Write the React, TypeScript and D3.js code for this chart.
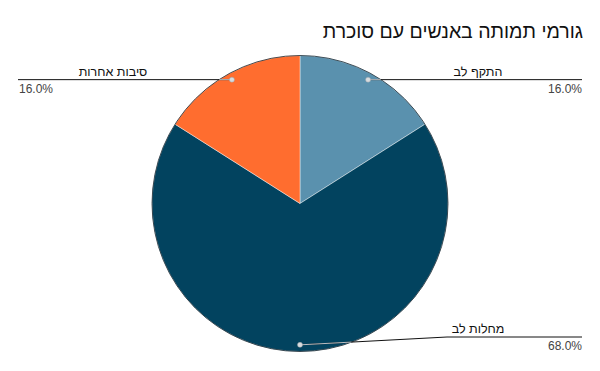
import React from "react";
import * as d3 from "d3";

const categories = ["התקף לב", "מחלות לב", "סיבות אחרות"];
const values = [16, 68, 16];
const colors = ["#5a91ae", "#02435f", "#ff6d2f"];
const title = "גורמי תמותה באנשים עם סוכרת";

const W = 600;
const H = 371;

export default function App() {
  const cx = 300;
  const cy = 203.5;
  const r = 148;
  const total = d3.sum(values);
  const pie = d3.pie<number>().sort(null).value((d) => d);
  const arcs = pie(values);
  const arc = d3.arc<d3.PieArcDatum<number>>().innerRadius(0).outerRadius(r);
  const dotR = r * 0.955;
  const fmt = d3.format(".1f");

  return (
    <svg width={W} height={H} style={{ position: "absolute", left: 0, top: 0, background: "#fff" }}
      fontFamily="'Liberation Sans', Arial, sans-serif">
      <rect x={0} y={0} width={W} height={H} fill="#fff" />
      <text x={583} y={38} textAnchor="end" fontSize={19.5} fill="#111">{title}</text>
      <g transform={`translate(${cx},${cy})`}>
        {arcs.map((a, i) => (
          <path key={i} d={arc(a) || ""} fill={colors[i]} stroke="#ffffff" strokeWidth={0.6} strokeOpacity={0.7} />
        ))}
        <circle r={r} fill="none" stroke="#1d2b33" strokeWidth={0.8} />
      </g>
      {arcs.map((a, i) => {
        const mid = (a.startAngle + a.endAngle) / 2;
        const dx = cx + dotR * Math.sin(mid);
        const dy = cy - dotR * Math.cos(mid);
        const right = dx >= cx;
        const ly = Math.min(dy, H - 34);
        const elbowX = right ? Math.max(dx, 447) : Math.min(dx, 153);
        const endX = right ? 582 : 18;
        const textX = right ? 478 : 113;
        const pct = fmt((values[i] / total) * 100) + "%";
        const inside = (x: number, y: number) => (x - cx) ** 2 + (y - cy) ** 2 <= r * r;
        let exitX = dx;
        let exitY = dy;
        for (let t = 0; t <= 1; t += 0.01) {
          const x = dx + (elbowX - dx) * t;
          const y = dy + (ly - dy) * t;
          if (!inside(x, y)) break;
          exitX = x;
          exitY = y;
        }
        if (inside(elbowX, ly)) {
          let hx = elbowX;
          const step = right ? 1 : -1;
          while (inside(hx, ly)) hx += step;
          exitX = hx;
          exitY = ly;
        }
        return (
          <g key={i}>
            <polyline points={`${dx},${dy} ${elbowX},${ly} ${endX},${ly}`} fill="none" stroke="#111" strokeWidth={1} />
            <line x1={dx} y1={dy} x2={exitX} y2={exitY} stroke="#b9bfc4" strokeWidth={1} />
            <circle cx={dx} cy={dy} r={2.5} fill="#d8dcdf" stroke="#9aa3a8" strokeWidth={0.5} />
            <text x={textX} y={ly - 4} textAnchor="middle" fontSize={12.5} fill="#111">{categories[i]}</text>
            <text x={right ? endX : endX + 1} y={ly + 13} textAnchor={right ? "end" : "start"} fontSize={12} fill="#444">{pct}</text>
          </g>
        );
      })}
    </svg>
  );
}
